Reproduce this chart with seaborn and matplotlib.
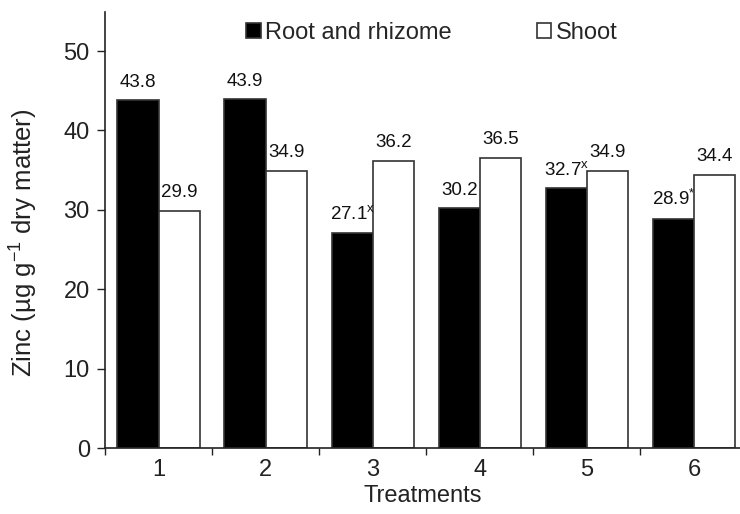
import matplotlib
matplotlib.use("Agg")
import matplotlib.pyplot as plt
import seaborn as sns
import pandas as pd
from matplotlib.ticker import FixedLocator

treatments = ["1", "2", "3", "4", "5", "6"]
root_values = [43.8, 43.9, 27.1, 30.2, 32.7, 28.9]
shoot_values = [29.9, 34.9, 36.2, 36.5, 34.9, 34.4]
root_labels = ["43.8", "43.9", "27.1$^{x}$", "30.2", "32.7$^{x}$", "28.9$^{*}$"]
shoot_labels = ["29.9", "34.9", "36.2", "36.5", "34.9", "34.4"]
series_names = ["Root and rhizome", "Shoot"]

df = pd.DataFrame({
    "Treatment": treatments * 2,
    "Zinc": root_values + shoot_values,
    "Part": [series_names[0]] * 6 + [series_names[1]] * 6,
})

sns.set_style("ticks")
plt.rcParams["font.family"] = ["Liberation Sans", "DejaVu Sans"]
plt.rcParams["mathtext.default"] = "regular"

fig = plt.figure(figsize=(7.4, 5.14), dpi=100)
ax = fig.add_axes([0.142, 0.1284, 0.858, 0.848])

sns.barplot(data=df, x="Treatment", y="Zinc", hue="Part", order=treatments,
            hue_order=series_names, palette=["black", "white"], width=0.77,
            edgecolor="#333333", linewidth=1.2, ax=ax, legend=True)

labels_all = [root_labels, shoot_labels]
for ci, cont in enumerate(ax.containers):
    for bi, bar in enumerate(cont):
        x = bar.get_x() + bar.get_width() / 2
        h = bar.get_height()
        ax.annotate(labels_all[ci][bi], (x, h), xytext=(0, 7), textcoords="offset points",
                    ha="center", va="bottom", fontsize=13.5, color="#111111")

ax.set_ylim(0, 54.9)
ax.set_xlim(-0.5, 5.43)
ax.set_yticks([0, 10, 20, 30, 40, 50])
ax.tick_params(axis="y", labelsize=17, length=6, width=1, pad=5, colors="#222222")
ax.tick_params(axis="x", which="major", length=0, labelsize=17, pad=8, colors="#222222")
ax.xaxis.set_minor_locator(FixedLocator([-0.5, 0.5, 1.5, 2.5, 3.5, 4.5]))
ax.tick_params(axis="x", which="minor", length=5, width=1, direction="out", color="#222222")

ax.set_xlabel("Treatments", fontsize=17, labelpad=3, color="#222222")
ax.set_ylabel("Zinc (µg g$^{-1}$ dry matter)", fontsize=18.5, color="#222222")
ax.yaxis.set_label_coords(-0.102, 0.472)

for s in ["top", "right"]:
    ax.spines[s].set_visible(False)
for s in ["left", "bottom"]:
    ax.spines[s].set_color("#222222")
    ax.spines[s].set_linewidth(1.2)

leg = ax.legend(loc="center", bbox_to_anchor=(0.515, 0.952), ncol=2, frameon=False,
                fontsize=17, handlelength=0.6, handleheight=0.6, handletextpad=0.2,
                columnspacing=3.6)

fig.savefig("out.png", dpi=100)
